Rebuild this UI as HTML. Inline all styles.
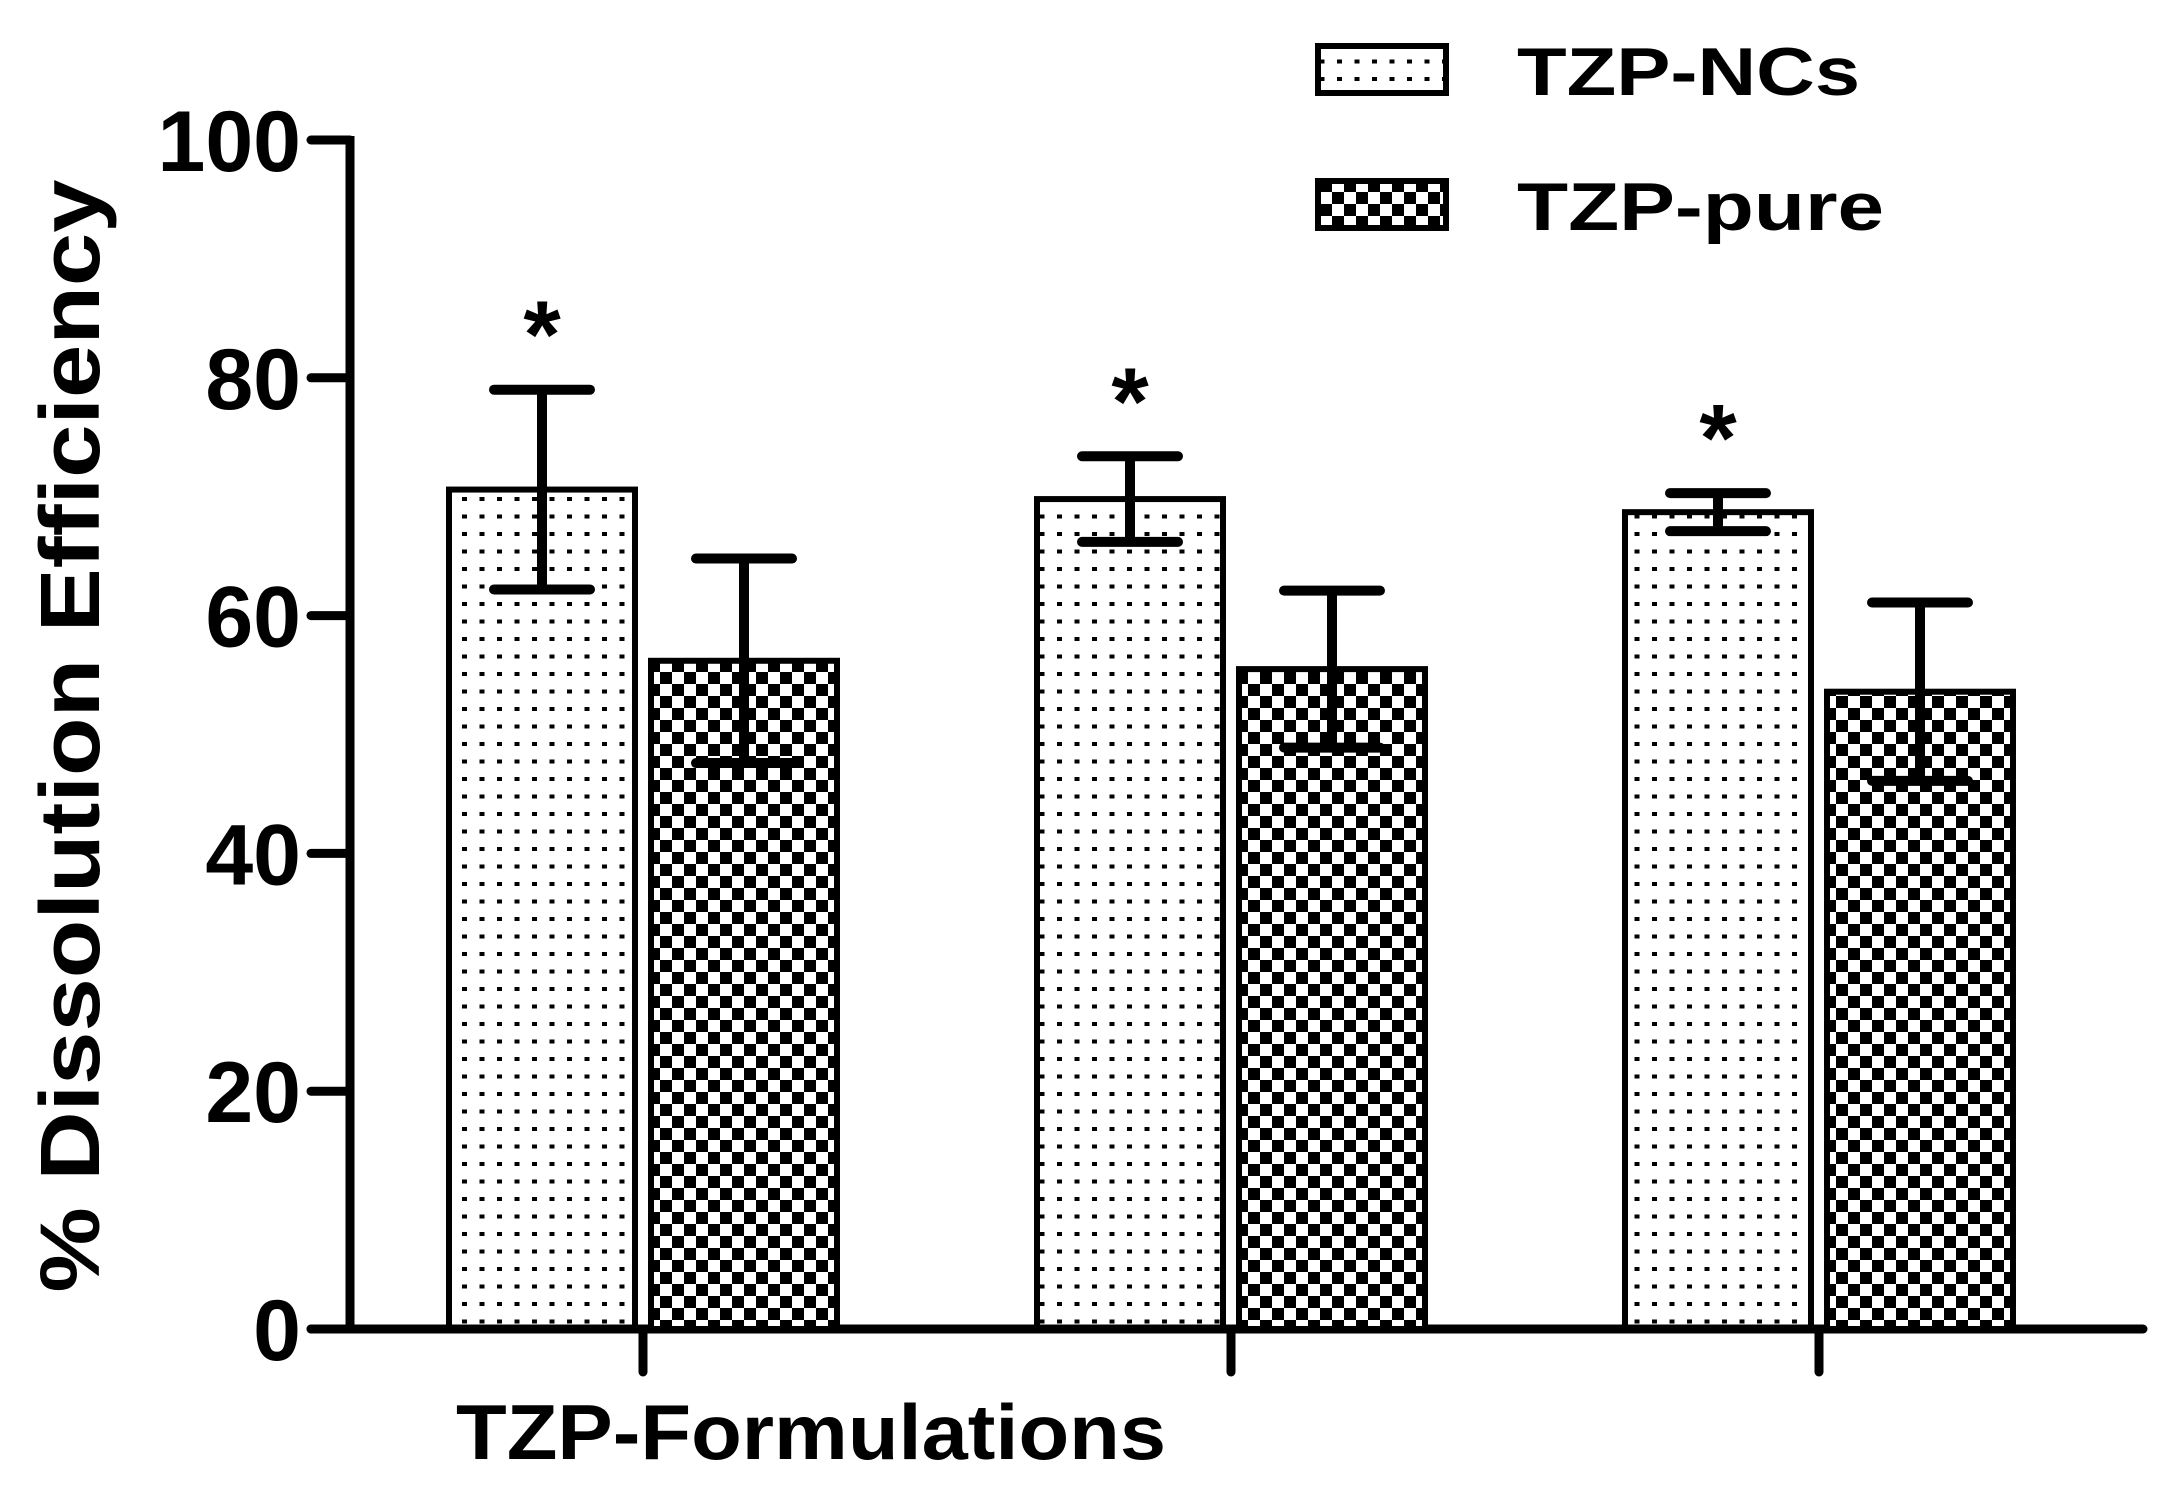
<!DOCTYPE html>
<html><head><meta charset="utf-8"><style>
html,body{margin:0;padding:0;background:#fff;}
svg{display:block;font-family:"Liberation Sans",Arial,sans-serif;font-weight:bold;}
</style></head><body>
<svg id="chart" width="2157" height="1488" viewBox="0 0 2157 1488">
<defs>
<pattern id="dots" width="17.5" height="17.5" patternUnits="userSpaceOnUse">
<rect x="7" y="7" width="5" height="4" fill="#000"/>
</pattern>
<pattern id="check" width="24" height="24" patternUnits="userSpaceOnUse">
<rect width="24" height="24" fill="#000"/>
<rect x="0" y="0" width="12" height="12" fill="#fff"/>
<rect x="12" y="12" width="12" height="12" fill="#fff"/>
</pattern>
</defs>
<g id="plot"></g>
</svg>
<script>
const categories = ["F1","F2","F3"];
const ncValues = [70.6, 69.8, 68.7];
const ncErrors = [8.4, 3.6, 1.6];
const pureValues = [56.2, 55.5, 53.6];
const pureErrors = [8.6, 6.6, 7.5];
const yTicks = [0,20,40,60,80,100];

const NS="http://www.w3.org/2000/svg";
const g=document.getElementById('plot');
const y0=1329, y100=140, axisX=350;
function yScale(v){return y0-(y0-y100)*v/100;}
const groupCenters0=643, groupStep=588;
function xCenter(i){return groupCenters0+i*groupStep;}
function mk(tag,attrs){const e=document.createElementNS(NS,tag);for(const k in attrs)e.setAttribute(k,attrs[k]);g.appendChild(e);return e;}

let ya=mk('line',{x1:axisX,y1:y100-4,x2:axisX,y2:y0+4,stroke:'#000','stroke-width':9});


let xa=mk('line',{x1:311,y1:y0,x2:2143,y2:y0,stroke:'#000','stroke-width':9,'stroke-linecap':'round'});


yTicks.forEach(t=>{
  const y=yScale(t);
  let l=mk('line',{x1:311,y1:y,x2:axisX,y2:y,stroke:'#000','stroke-width':9,'stroke-linecap':'round'});
  
  
  let tx=mk('text',{x:301,y:y+31,'text-anchor':'end','font-size':86});
  tx.textContent=t;
  
  
});
categories.forEach((c,i)=>{
  const cx=xCenter(i);
  let t=mk('line',{x1:cx,y1:y0,x2:cx,y2:1372,stroke:'#000','stroke-width':9,'stroke-linecap':'round'});
  
  
  const bw=186, gap=16;
  const series=[[ncValues,ncErrors,'url(#dots)',cx-gap/2-bw,'bar-nc'],[pureValues,pureErrors,'url(#check)',cx+gap/2,'bar-pure']];
  series.forEach(([vals,errs,fill,x,name])=>{
    const v=vals[i], top=yScale(v);
    let r=mk('rect',{x:x,y:top,width:bw,height:y0-top,fill:fill,stroke:'#000','stroke-width':6});
    
    
    const ex=x+bw/2, et=yScale(v+errs[i]), eb=yScale(v-errs[i]);
    let el=mk('path',{d:`M${ex},${et}L${ex},${eb}M${ex-48},${et}L${ex+48},${et}M${ex-48},${eb}L${ex+48},${eb}`,stroke:'#000','stroke-width':10,'stroke-linecap':'round',fill:'none'});
    
    
    if(name==='bar-nc'){
      let s=mk('text',{x:ex,y:et-22,'text-anchor':'middle','font-size':96});
      s.textContent='*';
      
      
    }
  });
});
let yt=mk('text',{x:0,y:0,'text-anchor':'middle','font-size':84,textLength:1113,lengthAdjust:'spacingAndGlyphs',transform:'translate(99,736) rotate(-90)'});
yt.textContent='% Dissolution Efficiency';


let xt=mk('text',{x:456,y:1459,'font-size':78,textLength:710,lengthAdjust:'spacingAndGlyphs'});
xt.textContent='TZP-Formulations';


[['url(#dots)','TZP-NCs',46,343],['url(#check)','TZP-pure',181,367]].forEach(([f,label,y,len])=>{
  let r=mk('rect',{x:1318,y:y,width:128,height:47,fill:f,stroke:'#000','stroke-width':6});
  
  
  let t=mk('text',{x:1517,y:y+49,'font-size':68,textLength:len,lengthAdjust:'spacingAndGlyphs'});
  t.textContent=label;
  
  
});
</script>
</body></html>
